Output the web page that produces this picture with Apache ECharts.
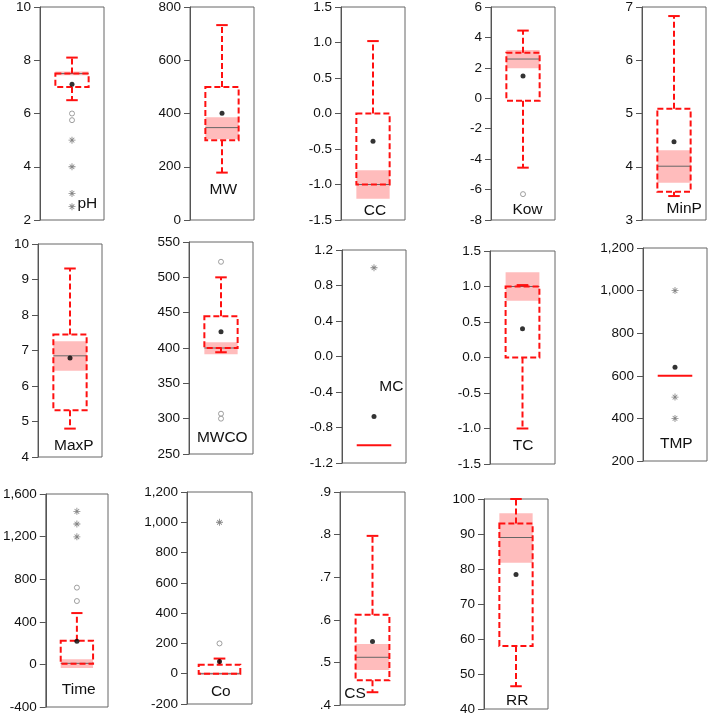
<!DOCTYPE html>
<html><head><meta charset="utf-8">
<script src="https://cdn.jsdelivr.net/npm/echarts@6/dist/echarts.min.js"></script>
<style>html,body{margin:0;padding:0;background:#fff}#c{width:709px;height:716px}</style>
</head><body><div id="c"></div>
<script>
// ---------- DATA ----------
const panels = ['pH','MW','CC','Kow','MinP','MaxP','MWCO','MC','TC','TMP','Time','Co','CS','RR'];
const axisMin  = [2, 0,   -1.5, -8, 3, 4,  250, -1.2, -1.5, 200,  -400, -200, 0.4, 40];
const axisMax  = [10, 800, 1.5,  6, 7, 10, 550,  1.2,  1.5, 1200, 1600, 1200, 0.9, 100];
const axisStep = [2, 200,  0.5,  2, 1, 1,  50,   0.4,  0.5, 200,  400,  200,  0.1, 10];
const tickFmt  = ['int','int','dec1','int','int','int','int','dec1','dec1','comma','comma','comma','lead','int'];

const whiskerLow  = [6.5, 178, null, -4.56, 3.45, 4.8,  394, null, -1.0, null, null, null, 0.43,  46.5];
const q1          = [7.0, 300, -1.0, -0.16, 3.53, 5.32, 400, -1.0,  0.0, 600,  5,    0,    0.458, 58];
const median      = [7.5, 347, -1.0,  2.58, 4.01, 6.85, 400, -1.0,  1.0, 600,  10,   0,    0.512, 89];
const q3          = [7.5, 500,  0.0,  3.0,  5.09, 7.45, 445, -1.0,  1.0, 600,  222,  60,   0.612, 93];
const whiskerHigh = [8.1, 732,  1.02, 4.45, 6.83, 9.31, 500, null,  1.02, null, 482, 100,  0.797, 100];
const notchLow    = [7.44, 303, -1.2, 1.97, 3.70, 6.43, 391, null, 0.8, null, -33,  -8,   0.482, 81.8];
const notchHigh   = [7.58, 386, -0.8, 3.17, 4.31, 7.26, 408, null, 1.2, null,  49,   8,   0.543, 95.9];
const means       = [7.1, 401, -0.39, 1.46, 4.47, 6.79, 423, -0.675, 0.405, 640, 218, 80, 0.549, 78.4];
const nearOutliers = [[6.0,5.75],[],[],[-6.3],[],[],[522,307,300],[],[],[],[721,595],[200],[],[]];
const farOutliers  = [[5.0,4.0,3.0,2.5],[],[],[],[],[],[],[1.0],[],[1000,500,400],[1437,1318,1198],[1000],[],[]];

// ---------- LAYOUT / STYLE ----------
const gridRects = [
  [40,7,64,213],[190,7,64,213],[341,7,64,213],[491,7,64,213],[642,7,64,213],
  [38,244,64,213],[189,242,64,212],[342,250,64,213],[490,251,65,213],[643,248,64,213],
  [44,494,64,213],[187,492,65,212],[340,492,65,213],[484,499,64,213]
];
// label anchor: [x fraction, y value]
const labelAnchor = [
  [0.74,2.63],[0.52,113],[0.53,-1.373],[0.57,-7.35],[0.66,3.21],
  [0.56,4.31],[0.52,273],[0.77,-0.344],[0.51,-1.246],[0.52,280],
  [0.53,-240],[0.52,-121],[0.23,0.426],[0.52,42.3]
];
const boxHalf = [0.26,0.26,0.26,0.26,0.26,0.26,0.26,0.27,0.26,0.27,0.26,0.32,0.26,0.26];
const capHalf = 0.09;
const RED = '#ff1010';
const FONT = 'Liberation Sans, Arial, sans-serif';
const ASTER = 'path://M4.4,0h1.2v10h-1.2z M0,4.4h10v1.2h-10z M1.3,2.1l0.8-0.8l6.6,6.6l-0.8,0.8z M7.9,1.3l0.8,0.8l-6.6,6.6l-0.8-0.8z';

function fmt(kind){
  return function(v){
    if (kind==='int') return String(Math.round(v));
    if (kind==='dec1') { let s=(Math.round(v*10)/10).toFixed(1); return s==='-0.0'?'0.0':s; }
    if (kind==='comma') return Math.round(v).toLocaleString('en-US');
    if (kind==='lead') return (Math.round(v*10)/10).toFixed(1).replace(/^0/,'');
    return String(v);
  };
}

const grid=[], xAxis=[], yAxis=[], series=[];
panels.forEach(function(name,i){
  const r = gridRects[i];
  grid.push({left:r[0], top:r[1], width:r[2], height:r[3], show:true, borderColor:'#666', borderWidth:1, backgroundColor:'transparent'});
  xAxis.push({gridIndex:i, type:'value', min:0, max:1, show:false});
  yAxis.push({gridIndex:i, type:'value', min:axisMin[i], max:axisMax[i], interval:axisStep[i],
    axisLine:{show:true, lineStyle:{color:'#555', width:1}},
    axisTick:{show:true, length:6, lineStyle:{color:'#555'}},
    splitLine:{show:false},
    axisLabel:{color:'#111', fontSize:13.5, fontFamily:FONT, margin:9, formatter:fmt(tickFmt[i]), showMinLabel:true, showMaxLabel:true}
  });
  series.push({
    type:'custom', xAxisIndex:i, yAxisIndex:i, clip:false, silent:true,
    data:[[0.5, median[i]]],
    renderItem:function(params, api){
      const cx=0.5, hw=boxHalf[i];
      const P=(x,y)=>api.coord([x,y]);
      const ch=[];
      if (notchLow[i]!==null){
        const a=P(cx-hw,notchHigh[i]), b=P(cx+hw,notchLow[i]);
        ch.push({type:'rect', shape:{x:a[0],y:a[1],width:b[0]-a[0],height:b[1]-a[1]}, style:{fill:'#ffbcbc'}});
      }
      if (q1[i]!==q3[i]){
        const m1=P(cx-hw,median[i]), m2=P(cx+hw,median[i]);
        ch.push({type:'line', shape:{x1:m1[0],y1:m1[1],x2:m2[0],y2:m2[1]}, style:{stroke:'#666',lineWidth:1}});
        const a=P(cx-hw,q3[i]), b=P(cx+hw,q1[i]);
        ch.push({type:'rect', shape:{x:a[0],y:a[1],width:b[0]-a[0],height:b[1]-a[1]}, style:{fill:null,stroke:RED,lineWidth:2,lineDash:[6,3]}});
      } else {
        const m1=P(cx-hw,median[i]), m2=P(cx+hw,median[i]);
        ch.push({type:'line', shape:{x1:m1[0],y1:m1[1],x2:m2[0],y2:m2[1]}, style:{stroke:RED,lineWidth:2}});
      }
      if (whiskerHigh[i]!==null){
        const a=P(cx,q3[i]), b=P(cx,whiskerHigh[i]);
        ch.push({type:'line', shape:{x1:a[0],y1:a[1],x2:b[0],y2:b[1]}, style:{stroke:RED,lineWidth:2,lineDash:[6,3]}});
        const c1=P(cx-capHalf,whiskerHigh[i]), c2=P(cx+capHalf,whiskerHigh[i]);
        ch.push({type:'line', shape:{x1:c1[0],y1:c1[1],x2:c2[0],y2:c2[1]}, style:{stroke:RED,lineWidth:2}});
      }
      if (whiskerLow[i]!==null){
        const a=P(cx,q1[i]), b=P(cx,whiskerLow[i]);
        ch.push({type:'line', shape:{x1:a[0],y1:a[1],x2:b[0],y2:b[1]}, style:{stroke:RED,lineWidth:2,lineDash:[6,3]}});
        const c1=P(cx-capHalf,whiskerLow[i]), c2=P(cx+capHalf,whiskerLow[i]);
        ch.push({type:'line', shape:{x1:c1[0],y1:c1[1],x2:c2[0],y2:c2[1]}, style:{stroke:RED,lineWidth:2}});
      }
      const la=P(labelAnchor[i][0], labelAnchor[i][1]);
      ch.push({type:'text', x:la[0], y:la[1], style:{text:name, fill:'#111', fontSize:15.5, fontFamily:FONT, align:'center', verticalAlign:'middle'}});
      return {type:'group', children:ch};
    }
  });
  series.push({type:'scatter', xAxisIndex:i, yAxisIndex:i, silent:true, symbol:'circle', symbolSize:5,
    itemStyle:{color:'#000'}, data:[[0.5, means[i]]], z:5});
  if (nearOutliers[i].length) series.push({type:'scatter', xAxisIndex:i, yAxisIndex:i, silent:true, symbol:'circle', symbolSize:5,
    itemStyle:{color:'#fff', borderColor:'#888', borderWidth:1}, data:nearOutliers[i].map(v=>[0.5,v]), z:5});
  if (farOutliers[i].length) series.push({type:'scatter', xAxisIndex:i, yAxisIndex:i, silent:true, symbol:ASTER, symbolSize:7,
    itemStyle:{color:'#666'}, data:farOutliers[i].map(v=>[0.5,v]), z:5});
});

const chart = echarts.init(document.getElementById('c'), null, {renderer:'canvas'});
chart.setOption({animation:false, backgroundColor:'#fff', grid:grid, xAxis:xAxis, yAxis:yAxis, series:series});
</script></body></html>
